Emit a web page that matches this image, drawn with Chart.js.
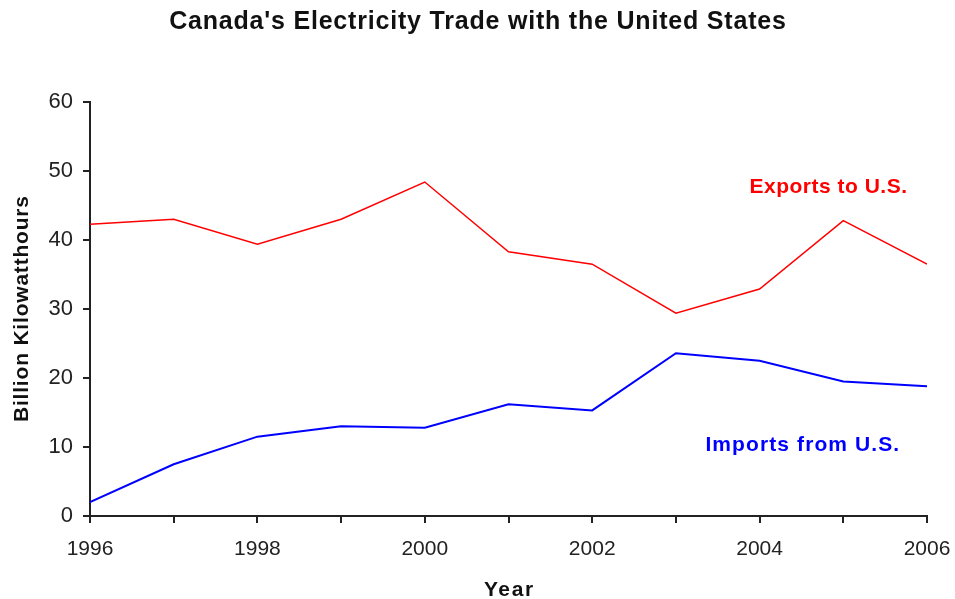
<!DOCTYPE html>
<html>
<head>
<meta charset="utf-8">
<script src="https://cdn.jsdelivr.net/npm/chart.js@4/dist/chart.umd.min.js"></script>
<style>
html,body{margin:0;padding:0;background:#fff;}
#wrap{width:955px;height:599px;}
</style>
</head>
<body>
<div id="wrap"><canvas id="c" width="955" height="599"></canvas></div>
<script>
const years = [1996,1997,1998,1999,2000,2001,2002,2003,2004,2005,2006];
const exportsToUS = [42.3,43.0,39.4,43.0,48.4,38.3,36.5,29.4,32.9,42.8,36.5];
const importsFromUS = [2.0,7.5,11.5,13.0,12.8,16.2,15.3,23.6,22.5,19.5,18.8];
const yTicks = [0,10,20,30,40,50,60];
const seriesNames = ['Exports to U.S.','Imports from U.S.'];
const seriesColors = ['#FF0000','#0000FF'];
const chartTitle = "Canada's Electricity Trade with the United States";
const xTitle = 'Year';
const yTitle = 'Billion Kilowatthours';
// label anchor positions in data units
const labelX = [2004.82, 2004.51];
const labelY = [47.6, 10.3];

const FONT = '"Liberation Sans", Arial, sans-serif';

function spacedText(ctx, text, x, y, spacing) {
  ctx.letterSpacing = spacing + 'px';
  ctx.fillText(text, x + spacing / 2, y);
  ctx.letterSpacing = '0px';
}

const textPlugin = {
  id: 'texts',
  afterDraw(chart) {
    const {ctx, chartArea, scales:{x, y}} = chart;
    ctx.save();
    ctx.textAlign = 'center';
    ctx.textBaseline = 'middle';
    ctx.fillStyle = '#111';
    ctx.font = 'bold 25px ' + FONT;
    spacedText(ctx, chartTitle, chart.width / 2, 22, 0.8);
    ctx.font = 'bold 21px ' + FONT;
    spacedText(ctx, xTitle, (chartArea.left + chartArea.right) / 2, 590, 1.6);
    ctx.save();
    ctx.translate(22, (chartArea.top + chartArea.bottom) / 2);
    ctx.rotate(-Math.PI / 2);
    ctx.font = 'bold 21px ' + FONT;
    spacedText(ctx, yTitle, 0, 0, 0.8);
    ctx.restore();
    ctx.font = 'bold 21px ' + FONT;
    seriesNames.forEach((n, i) => {
      ctx.fillStyle = seriesColors[i];
      spacedText(ctx, n, x.getPixelForValue(labelX[i]), y.getPixelForValue(labelY[i]), i === 0 ? 0.5 : 1.1);
    });
    ctx.restore();
  }
};

new Chart(document.getElementById('c'), {
  type: 'line',
  data: {
    datasets: [
      { label: seriesNames[0], data: years.map((yr,i)=>({x:yr,y:exportsToUS[i]})),
        borderColor: seriesColors[0], borderWidth: 1.5, pointRadius: 0, tension: 0, fill: false },
      { label: seriesNames[1], data: years.map((yr,i)=>({x:yr,y:importsFromUS[i]})),
        borderColor: seriesColors[1], borderWidth: 2, pointRadius: 0, tension: 0, fill: false }
    ]
  },
  options: {
    responsive: false,
    animation: false,
    layout: { padding: { left: 0, right: 28, top: 102, bottom: 0 } },
    plugins: {
      legend: { display: false },
      tooltip: { enabled: false },
      title: { display: false }
    },
    scales: {
      x: {
        type: 'linear',
        min: years[0], max: years[years.length-1],
        border: { display: true, color: '#222', width: 2 },
        grid: { drawOnChartArea: false, drawTicks: true, tickLength: 7, color: '#222', lineWidth: 2 },
        ticks: {
          stepSize: 1, autoSkip: false, maxRotation: 0, padding: 14,
          color: '#222', font: { family: FONT, size: 21 },
          callback: v => (v % 2 === 0 ? String(v) : '')
        },
        title: { display: false },
        afterFit: s => { s.height = 83; s.paddingLeft = 0; s.paddingRight = 0; }
      },
      y: {
        min: yTicks[0], max: yTicks[yTicks.length-1],
        afterBuildTicks: s => { s.ticks = yTicks.map(v => ({value: v})); },
        border: { display: true, color: '#222', width: 2 },
        grid: { drawOnChartArea: false, drawTicks: true, tickLength: 7, color: '#222', lineWidth: 2 },
        ticks: { padding: 10, color: '#222', font: { family: FONT, size: 22 } },
        title: { display: false },
        afterFit: s => { s.width = 90; s.paddingTop = 0; s.paddingBottom = 0; }
      }
    }
  },
  plugins: [textPlugin]
});
</script>
</body>
</html>
